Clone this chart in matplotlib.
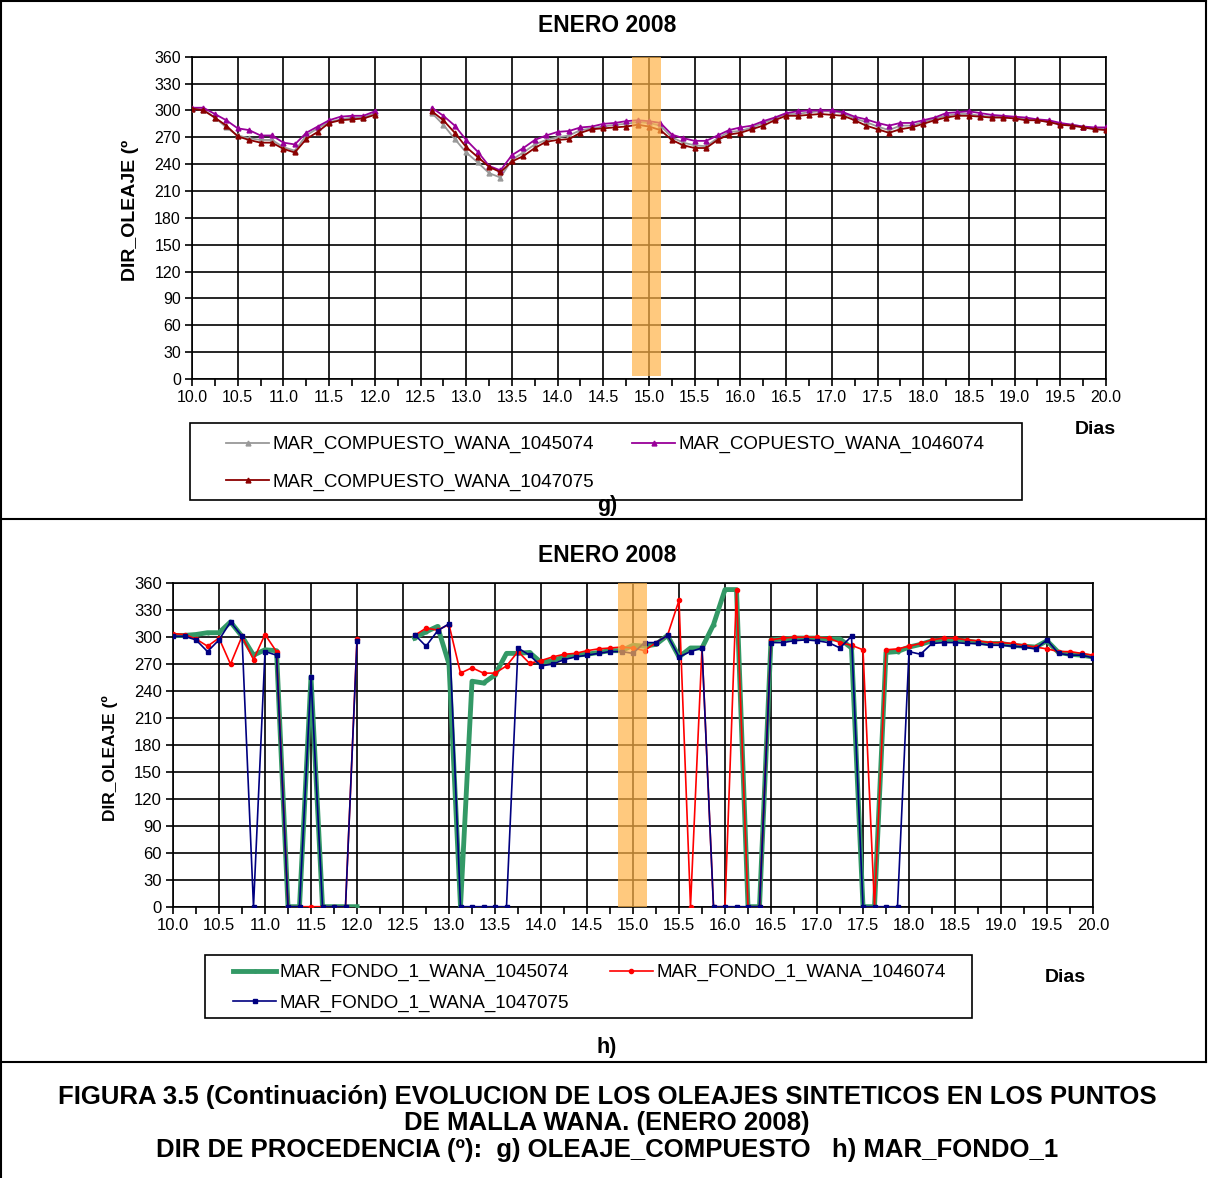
import numpy as np
import matplotlib
import matplotlib.pyplot as plt
from matplotlib.lines import Line2D
from matplotlib.patches import Rectangle
from matplotlib.ticker import MultipleLocator, FormatStrFormatter

matplotlib.use('agg')
plt.rcParams['font.family'] = ['Liberation Sans', 'DejaVu Sans']

W, H = 1208, 1178
nan = np.nan

# time axis: one value every 3 hours, 10.0 .. 20.0 days
dias = np.arange(10.0, 20.0001, 0.125)
hueco = [nan, nan, nan, nan]  # 12.125 .. 12.5 without data

# ---- g) OLEAJE_COMPUESTO ----
comp_1045074 = ([302, 301, 292, 281, 272, 269, 267, 267, 259, 255, 272, 280, 287, 290, 292, 292, 297] + hueco +
                [297, 284, 268, 253,
                 242, 230, 225, 245, 253, 262, 267, 270,
                 272, 278, 280, 282, 284, 285, 287, 286,
                 283, 270, 264, 261, 260, 269, 276, 277,
                 281, 286, 291, 296, 296, 298, 299, 299,
                 297, 291, 287, 282, 278, 283, 283, 287,
                 291, 294, 296, 296, 294, 293, 293, 292,
                 290, 289, 287, 285, 284, 282, 280, 279])
comp_1046074 = ([303, 303, 296, 289, 280, 278, 272, 272, 264, 262, 275, 282, 289, 293, 294, 294, 299] + hueco +
                [303, 294, 283, 267,
                 254, 238, 233, 250, 258, 267, 272, 276,
                 277, 281, 282, 285, 286, 288, 289, 288,
                 286, 273, 269, 266, 266, 272, 278, 281,
                 283, 288, 292, 297, 299, 300, 300, 300,
                 298, 293, 290, 286, 283, 286, 286, 289,
                 292, 297, 298, 299, 297, 295, 294, 293,
                 292, 290, 289, 286, 284, 282, 281, 281])
comp_1047075 = ([302, 300, 292, 283, 271, 267, 264, 264, 257, 253, 268, 276, 286, 289, 290, 291, 295] + hueco +
                [299, 289, 275, 259,
                 248, 237, 231, 243, 249, 258, 265, 267,
                 268, 275, 279, 280, 281, 282, 284, 282,
                 278, 267, 261, 258, 258, 267, 273, 275,
                 279, 283, 289, 294, 294, 295, 296, 295,
                 294, 289, 283, 279, 275, 279, 281, 285,
                 289, 292, 294, 294, 293, 292, 292, 291,
                 289, 289, 287, 284, 283, 281, 279, 278])

# ---- h) MAR_FONDO_1 ----
fondo_1045074 = ([302, 302, 303, 305, 305, 317, 301, 280, 286, 285, 0, 0, 256, 0, 0, 0, 0] + hueco +
                 [299, 306, 312, 270,
                  0, 251, 249, 258, 282, 282, 283, 272,
                  274, 278, 280, 281, 283, 285, 285, 291,
                  290, 292, 302, 278, 288, 288, 314, 353,
                  353, 0, 0, 297, 298, 299, 299, 299,
                  298, 298, 288, 0, 0, 283, 284, 289,
                  292, 296, 297, 297, 296, 294, 293, 293,
                  291, 290, 289, 296, 283, 281, 280, 278])
fondo_1046074 = ([304, 303, 298, 290, 299, 270, 301, 275, 303, 284, 0, 0, 0, 0, 0, 0, 298] + hueco +
                 [302, 310, 308, 314,
                  260, 266, 260, 260, 268, 284, 271, 274,
                  278, 281, 282, 285, 287, 288, 289, 288,
                  285, 294, 302, 341, 0, 288, 0, 0,
                  353, 0, 0, 297, 299, 300, 300, 300,
                  299, 294, 291, 286, 0, 286, 287, 290,
                  293, 297, 299, 299, 297, 296, 294, 294,
                  293, 291, 289, 287, 284, 284, 282, 280])
fondo_1047075 = ([301, 301, 297, 284, 297, 317, 301, 0, 284, 280, 0, 0, 256, 0, 0, 0, 296] + hueco +
                 [303, 290, 307, 315,
                  0, 0, 0, 0, 0, 288, 280, 268,
                  270, 275, 278, 280, 282, 284, 284, 282,
                  294, 294, 302, 278, 284, 288, 0, 0,
                  0, 0, 0, 294, 294, 296, 297, 296,
                  294, 288, 301, 0, 0, 0, 0, 284,
                  281, 293, 294, 294, 293, 293, 291, 291,
                  290, 289, 287, 297, 282, 280, 280, 277])

series_g = [
    ('MAR_COMPUESTO_WANA_1045074', comp_1045074, '#999999'),
    ('MAR_COPUESTO_WANA_1046074', comp_1046074, '#990099'),
    ('MAR_COMPUESTO_WANA_1047075', comp_1047075, '#8B0000'),
]
series_h = [
    ('MAR_FONDO_1_WANA_1045074', fondo_1045074, '#339966', 3.5, 'o', 2),
    ('MAR_FONDO_1_WANA_1046074', fondo_1046074, '#FF0000', 1.2, 'o', 3),
    ('MAR_FONDO_1_WANA_1047075', fondo_1047075, '#000080', 1.2, 's', 2.5),
]


def fx(px):
    return px / W


def fy(py):
    return 1 - py / H


def style_axes(ax, fs):
    ax.set_xlim(10, 20)
    ax.set_ylim(0, 360)
    ax.yaxis.set_major_locator(MultipleLocator(30))
    ax.xaxis.set_major_locator(MultipleLocator(0.5))
    ax.xaxis.set_minor_locator(MultipleLocator(0.25))
    ax.xaxis.set_major_formatter(FormatStrFormatter('%.1f'))
    ax.grid(True, which='major', color='black', lw=1.2)
    ax.set_axisbelow(True)
    ax.tick_params(which='both', direction='out', length=5, width=1.2, labelsize=fs, pad=3)
    for s in ax.spines.values():
        s.set_linewidth(1.2)
        s.set_color('black')


def row_order(hs):
    # legend fills column by column; reorder so entries read row by row
    return [hs[0], hs[2], hs[1]]


fig = plt.figure(figsize=(W / 100, H / 100), dpi=100)

# ---------- panel g ----------
ax1 = fig.add_axes([fx(192), fy(379), 914 / W, 322.3 / H])
handles_g = []
for name, vals, col in series_g:
    ln, = ax1.plot(dias, vals, color=col, lw=1.3, marker='^', ms=3.5, label=name, zorder=3)
    handles_g.append(ln)
style_axes(ax1, 11.5)
ax1.axvspan(14.81, 15.13, ymin=0.01, ymax=1.005, color='#FFB347', alpha=0.7, lw=0, zorder=5)

# ---------- panel h ----------
ax2 = fig.add_axes([fx(173), fy(906.7), 920 / W, 323.4 / H])
handles_h = []
for name, vals, col, lw, mk, ms in series_h:
    ln, = ax2.plot(dias, vals, color=col, lw=lw, marker=mk, ms=ms, label=name, zorder=3)
    handles_h.append(ln)
style_axes(ax2, 12)
ax2.axvspan(14.84, 15.15, color='#FFB347', alpha=0.7, lw=0, zorder=5)

# titles and labels
for y in (26, 556):
    fig.text(fx(607), fy(y), 'ENERO 2008', ha='center', va='center', fontsize=16.5, fontweight='bold')
fig.text(fx(130), fy(210), 'DIR_OLEAJE (º', rotation=90, ha='center', va='center', fontsize=14, fontweight='bold')
fig.text(fx(110), fy(758), 'DIR_OLEAJE (º', rotation=90, ha='center', va='center', fontsize=12.5, fontweight='bold')
fig.text(fx(1095), fy(430), 'Dias', ha='center', va='center', fontsize=14, fontweight='bold')
fig.text(fx(1065), fy(977), 'Dias', ha='center', va='center', fontsize=14, fontweight='bold')
fig.text(fx(607), fy(506), 'g)', ha='center', va='center', fontsize=15.5, fontweight='bold')
fig.text(fx(607), fy(1047), 'h)', ha='center', va='center', fontsize=15.5, fontweight='bold')

caption = ['FIGURA 3.5 (Continuación) EVOLUCION DE LOS OLEAJES SINTETICOS EN LOS PUNTOS',
           'DE MALLA WANA. (ENERO 2008)',
           'DIR DE PROCEDENCIA (º):  g) OLEAJE_COMPUESTO   h) MAR_FONDO_1']
for txt, y in zip(caption, (1097, 1123, 1150)):
    fig.text(fx(607), fy(y), txt, ha='center', va='center', fontsize=18.5, fontweight='bold')

# legends (frame drawn separately)
fig.patches.append(Rectangle((fx(190), fy(500)), (1022 - 190) / W, 77 / H, transform=fig.transFigure,
                             fill=False, ec='black', lw=1.2))
hg = row_order(handles_g)
fig.legend(hg, [h.get_label() for h in hg], loc='upper left',
           bbox_to_anchor=(fx(226), fy(436), (985 - 226) / W, 0), bbox_transform=fig.transFigure,
           mode='expand', ncol=2, frameon=False, borderpad=0, borderaxespad=0,
           handlelength=2.3, handletextpad=0.2, labelspacing=1.07, fontsize=13.5)

fig.patches.append(Rectangle((fx(205), fy(1018)), (972 - 205) / W, 63 / H, transform=fig.transFigure,
                             fill=False, ec='black', lw=1.2))
hh = row_order(handles_h)
fig.legend(hh, [h.get_label() for h in hh], loc='upper left',
           bbox_to_anchor=(fx(233), fy(964), (946 - 233) / W, 0), bbox_transform=fig.transFigure,
           mode='expand', ncol=2, frameon=False, borderpad=0, borderaxespad=0,
           handlelength=2.3, handletextpad=0.2, labelspacing=0.72, fontsize=13.5)

# frame lines of the figure
frame = [((1, 1206), (1, 1)), ((1, 1), (0, 1178)), ((1206, 1206), (0, 1062)),
         ((1, 1206), (519, 519)), ((1, 1206), (1062, 1062))]
for xs, ys in frame:
    fig.add_artist(Line2D([fx(x) for x in xs], [fy(y) for y in ys], color='black', lw=1.5,
                          transform=fig.transFigure))

fig.savefig('out.png', dpi=100)
